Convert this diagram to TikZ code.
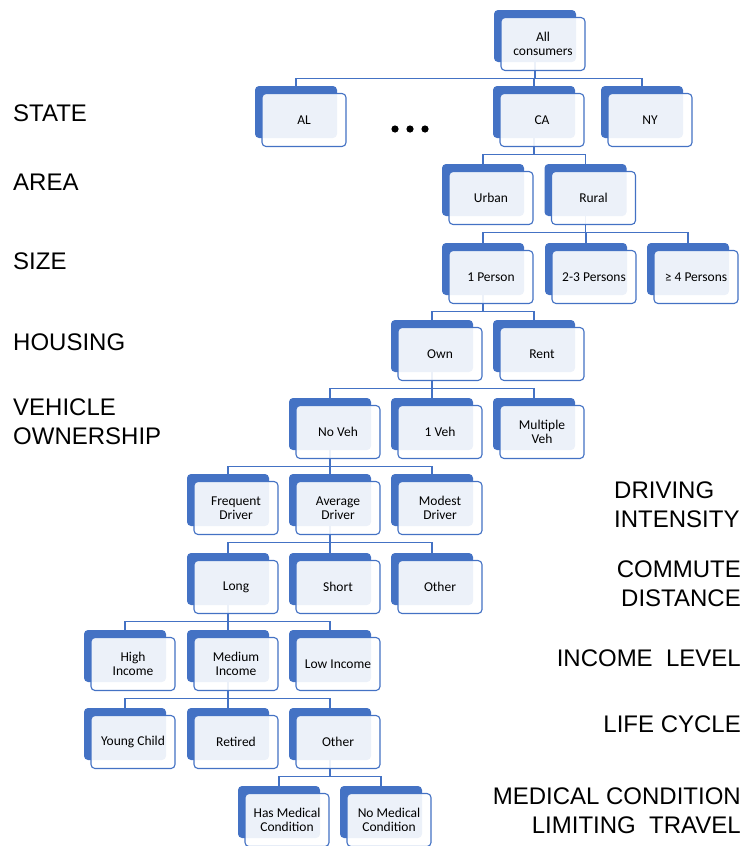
\documentclass[tikz,border=0pt]{standalone}
\usepackage{fontspec}
\setmainfont{Carlito}
\newfontfamily\labelfont{Liberation Sans}
\usetikzlibrary{positioning, backgrounds, calc}

\definecolor{tierblue}{HTML}{4472C4}

\tikzset{
  backbox/.style={fill=tierblue, rounded corners=4pt, minimum width=82pt, minimum height=52pt, inner sep=0pt},
  frontbox/.style={draw=tierblue, line width=1.1pt, fill=white, fill opacity=0.9, text opacity=1,
    rounded corners=4pt, minimum width=84pt, minimum height=53pt, inner sep=0pt, align=center,
    font=\fontsize{13.5}{13.5}\selectfont},
  conn/.style={draw=tierblue, line width=1.1pt},
  tierlabel/.style={font=\labelfont\fontsize{24}{29}\selectfont, inner sep=0pt}
}

% one category: dark tab behind, light card in front
\newcommand{\catbox}[4]{%
  \node[backbox] (#1) at (#2,#3) {};
  \node[frontbox] (#1-f) at ([shift={(8,8)}]#1.center) {#4};
}
% parent to child elbow
\newcommand{\branch}[2]{\draw[conn] (#1.south) -- ++(0,16) -| (#2.north);}

\begin{document}
\begin{tikzpicture}[x=1pt, y=-1pt]
  \useasboundingbox (0,0) rectangle (743,846);

  \catbox{all}{535}{36}{All\\consumers}

  \catbox{al}{296}{112}{AL}
  \catbox{ca}{534}{112}{CA}
  \catbox{ny}{642}{112}{NY}

  \catbox{urban}{483}{190}{Urban}
  \catbox{rural}{585.5}{190}{Rural}

  \catbox{one}{483}{269}{1 Person}
  \catbox{twothree}{586}{269}{2-3 Persons}
  \catbox{four}{688}{269}{≥ 4 Persons}

  \catbox{own}{432}{346}{Own}
  \catbox{rent}{534}{346}{Rent}

  \catbox{noveh}{330}{424}{No Veh}
  \catbox{oneveh}{432}{424}{1 Veh}
  \catbox{multveh}{534}{424}{Multiple\\Veh}

  \catbox{frequent}{228}{500}{Frequent\\Driver}
  \catbox{average}{330}{500}{Average\\Driver}
  \catbox{modest}{432}{500}{Modest\\Driver}

  \catbox{long}{228}{579}{Long}
  \catbox{short}{330}{579}{Short}
  \catbox{othercom}{432}{579}{Other}

  \catbox{high}{125}{656}{High\\Income}
  \catbox{medium}{228}{656}{Medium\\Income}
  \catbox{low}{330}{656}{Low Income}

  \catbox{young}{125}{734}{Young Child}
  \catbox{retired}{228}{734}{Retired}
  \catbox{otherlife}{330}{734}{Other}

  \catbox{hasmed}{279}{812}{Has Medical\\Condition}
  \catbox{nomed}{381}{812}{No Medical\\Condition}

  % ellipsis between AL and CA
  \foreach \dx in {395,410,425}
    \fill (\dx,129) circle (3.6);

  % connectors sit behind the cards
  \begin{pgfonlayer}{background}
    \branch{all}{al}
    \branch{all}{ca}
    \branch{all}{ny}
    \branch{ca}{urban}
    \branch{ca}{rural}
    \branch{rural}{one}
    \branch{rural}{twothree}
    \branch{rural}{four}
    \branch{one}{own}
    \branch{one}{rent}
    \branch{own}{noveh}
    \branch{own}{oneveh}
    \branch{own}{multveh}
    \branch{noveh}{frequent}
    \branch{noveh}{average}
    \branch{noveh}{modest}
    \branch{average}{long}
    \branch{average}{short}
    \branch{average}{othercom}
    \branch{long}{high}
    \branch{long}{medium}
    \branch{long}{low}
    \branch{medium}{young}
    \branch{medium}{retired}
    \branch{medium}{otherlife}
    \branch{otherlife}{hasmed}
    \branch{otherlife}{nomed}
  \end{pgfonlayer}

  % tier names
  \node[tierlabel, anchor=west] (lstate) at (13,113) {STATE};
  \node[tierlabel, anchor=west] (larea) at (13,182) {AREA};
  \node[tierlabel, anchor=west] (lsize) at (13,261) {SIZE};
  \node[tierlabel, anchor=west] (lhousing) at (13,342) {HOUSING};
  \node[tierlabel, anchor=west, align=left] (lvehicle) at (13,422) {VEHICLE\\OWNERSHIP};
  \node[tierlabel, anchor=west, align=left] (ldriving) at (614,505) {DRIVING\\INTENSITY};
  \node[tierlabel, anchor=east, align=right] (lcommute) at (741,584) {COMMUTE\\DISTANCE};
  \node[tierlabel, anchor=east] (lincome) at (741,658) {INCOME~~LEVEL};
  \node[tierlabel, anchor=east] (llife) at (741,724) {LIFE CYCLE};
  \node[tierlabel, anchor=east, align=right] (lmedical) at (741,811) {MEDICAL CONDITION\\LIMITING~~TRAVEL};
\end{tikzpicture}
\end{document}
